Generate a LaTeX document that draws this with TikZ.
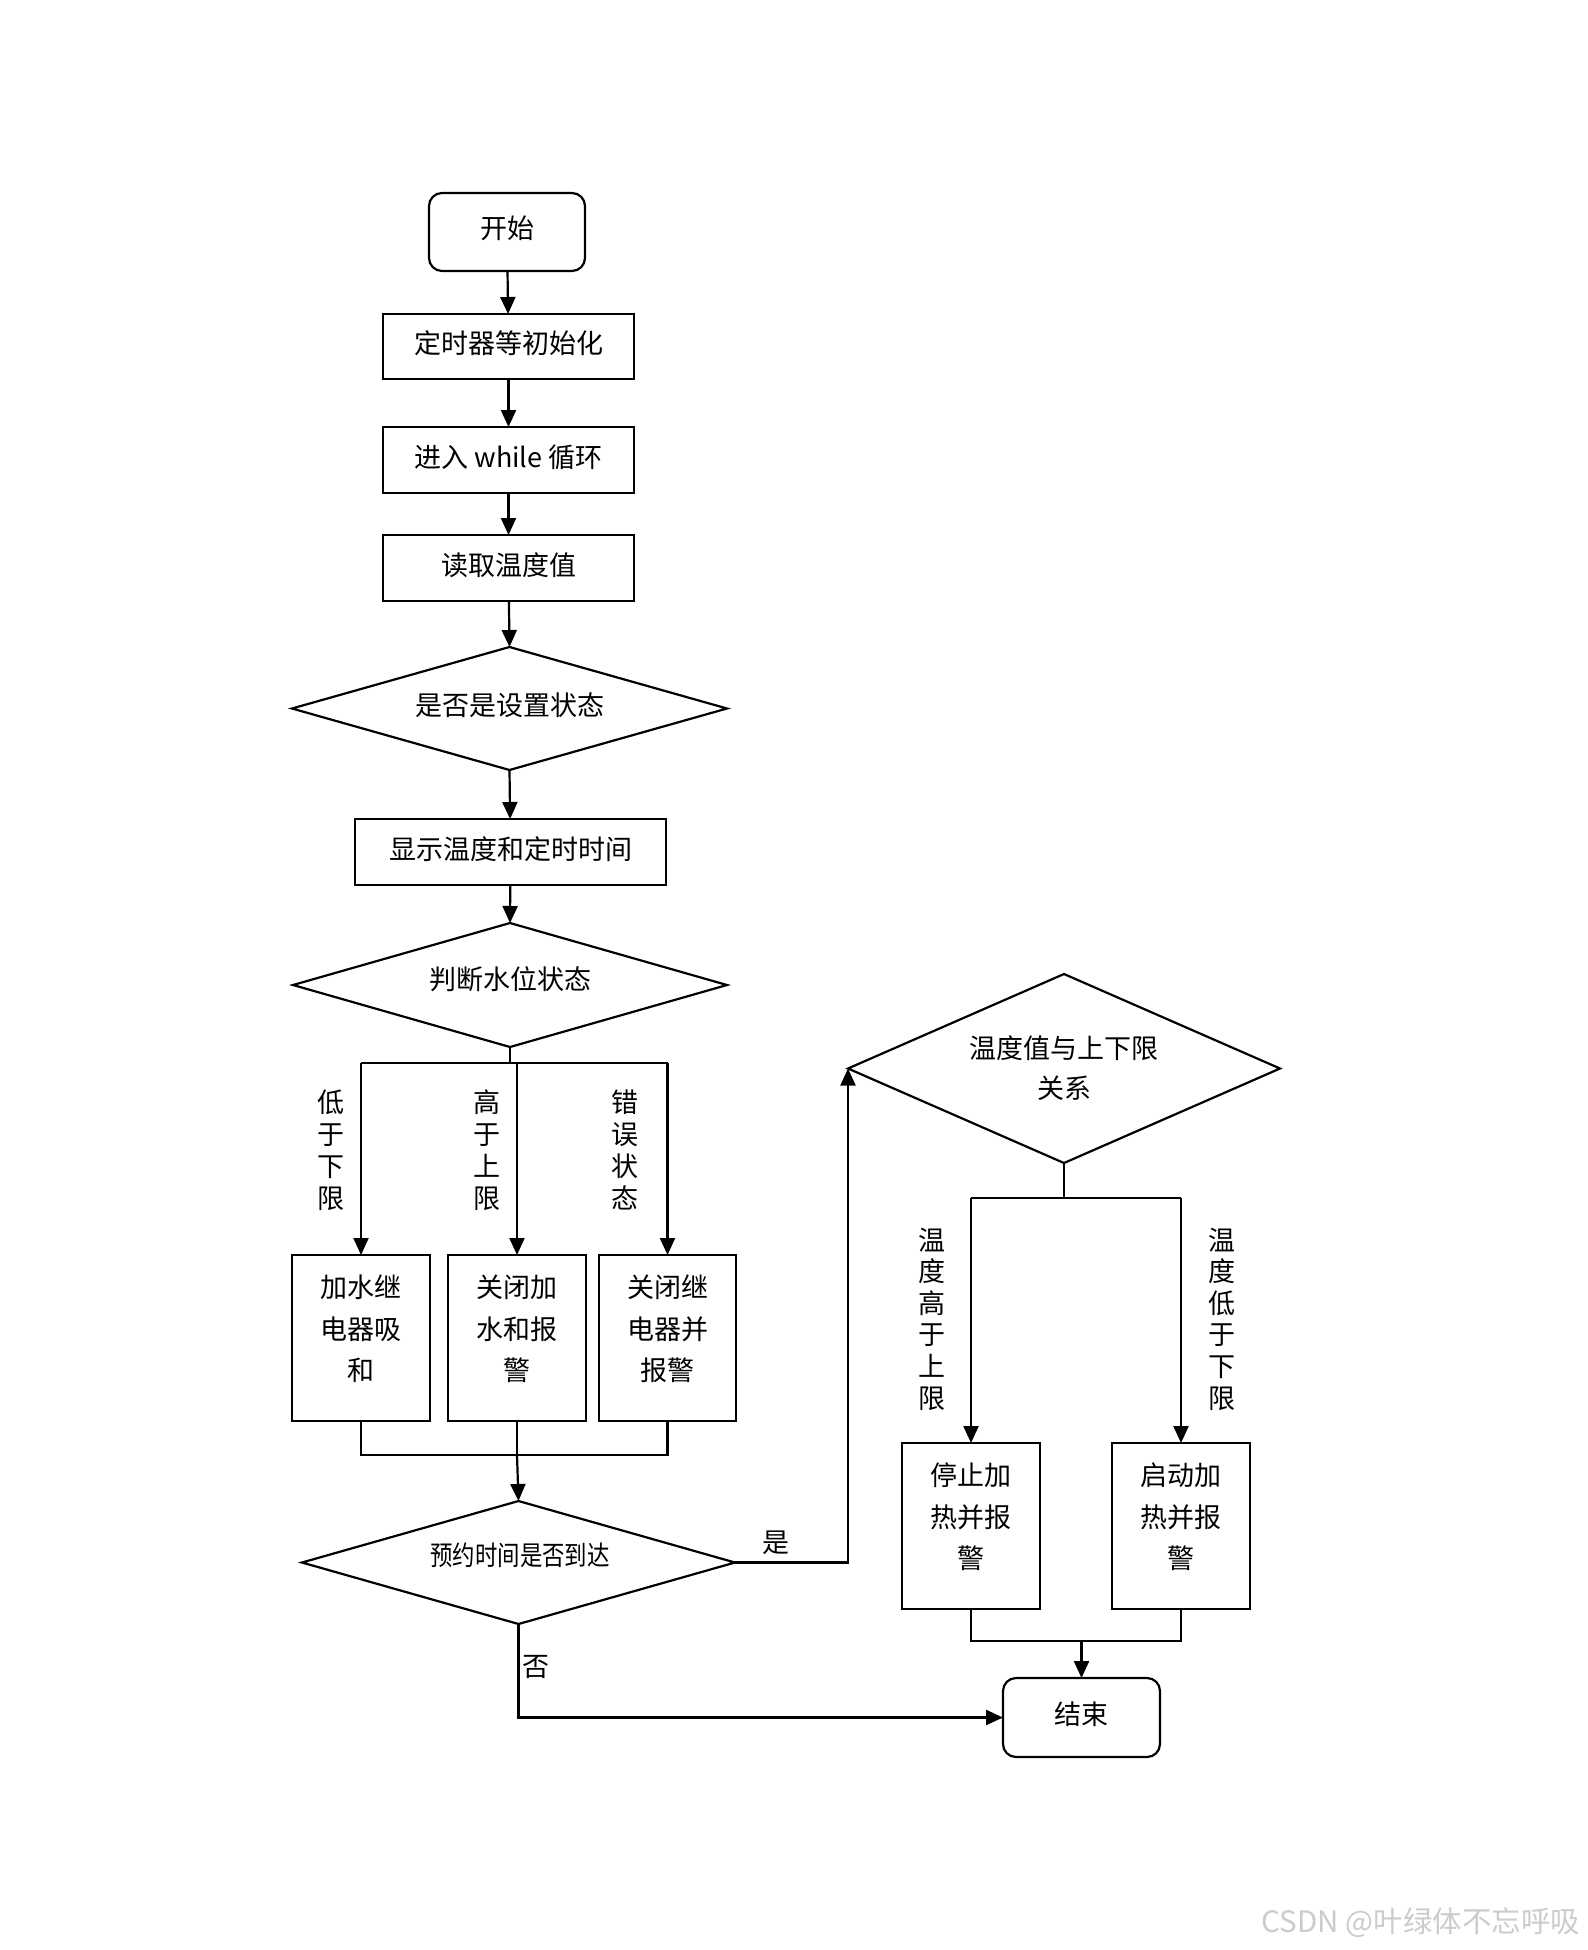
\documentclass[tikz,border=0pt]{standalone}
\usepackage{fontspec}
\setmainfont{Noto Sans CJK SC}
\usepackage{graphicx}
\usetikzlibrary{shapes.geometric,arrows.meta}
\begin{document}
\begin{tikzpicture}[x=1pt,y=-1pt,
  line width=2.2pt,
  every node/.style={inner sep=0pt, outer sep=0pt, font=\fontsize{27}{32}\selectfont},
  procbox/.style={draw, rectangle, minimum width=251pt, minimum height=65pt, text height=22pt, text depth=8pt},
  termbox/.style={draw, rectangle, rounded corners=13pt, minimum width=156pt, minimum height=78pt, text height=22pt, text depth=9pt},
  tallbox/.style={draw, rectangle, minimum width=138pt, minimum height=166pt},
  dia/.style={draw, diamond, aspect=1},
  boxtxt/.style={align=center, font=\fontsize{27}{41.5}\selectfont},
  vlab/.style={align=center, font=\fontsize{27}{32}\selectfont},
  vlabr/.style={align=center, font=\fontsize{27}{31.6}\selectfont},
  flow/.style={-{Triangle[length=17pt,width=15pt]}},
  wm/.style={text=black!20, font=\fontsize{29.5}{31}\selectfont}
]
\useasboundingbox (0,0) rectangle (1587,1950);
\fill[white] (0,0) rectangle (1587,1950);

% main column
\node[termbox] (start) at (507,232) {开始};
\node[procbox] (init) at (508.5,346.5) {定时器等初始化};
\node[procbox, minimum height=66pt] (loop) at (508.5,460) {进入 while 循环};
\node[procbox, minimum height=66pt] (read) at (508.5,568) {读取温度值};
\node[dia, minimum width=435pt, minimum height=123pt] (d1) at (509.5,708.5) {};
\node (d1t) at (509.5,705) {是否是设置状态};
\node[procbox, minimum width=311pt, minimum height=66pt] (disp) at (510.5,852) {显示温度和定时时间};
\node[dia, minimum width=434pt, minimum height=124pt] (d2) at (510,985) {};
\node (d2t) at (510,979) {判断水位状态};

% water branches
\node[tallbox] (w1) at (361,1338) {};
\node[tallbox] (w2) at (517,1338) {};
\node[tallbox, minimum width=137pt] (w3) at (667.5,1338) {};
\node[boxtxt] (w1t) at (361,1329) {加水继\\电器吸\\和};
\node[boxtxt] (w2t) at (517,1329) {关闭加\\水和报\\警};
\node[boxtxt] (w3t) at (667.5,1329) {关闭继\\电器并\\报警};
\node[vlab] (l1) at (331,1150) {低\\于\\下\\限};
\node[vlab] (l2) at (487,1150) {高\\于\\上\\限};
\node[vlab] (l3) at (625,1150) {错\\误\\状\\态};

\node[dia, minimum width=433pt, minimum height=123pt] (d3) at (518.5,1562.5) {};
\node (d3t) at (520,1555) {\scalebox{0.83}[1]{预约时间是否到达}};

% temperature part
\node[dia, minimum width=432pt, minimum height=189pt] (d4) at (1064,1068.5) {};
\node[align=center, font=\fontsize{27}{40}\selectfont] (d4t) at (1064,1068) {温度值与上下限\\关系};
\node[tallbox] (t1) at (971,1526) {};
\node[tallbox] (t2) at (1181,1526) {};
\node[boxtxt] (t1t) at (971,1517) {停止加\\热并报\\警};
\node[boxtxt] (t2t) at (1181,1517) {启动加\\热并报\\警};
\node[vlabr] (l4) at (932,1319) {温\\度\\高\\于\\上\\限};
\node[vlabr] (l5) at (1222,1319) {温\\度\\低\\于\\下\\限};

\node[termbox, minimum width=157pt, minimum height=79pt] (end) at (1081.5,1717.5) {结束};

% labels
\node (yes) at (776,1543) {是};
\node (no) at (536,1667) {否};

% connectors main column
\draw[flow] (start) -- (init);
\draw[flow] (init) -- (loop);
\draw[flow] (loop) -- (read);
\draw[flow] (read) -- (d1.north);
\draw[flow] (d1.south) -- (disp);
\draw[flow] (disp) -- (d2.north);

% water branch
\coordinate (j1) at (510,1063);
\draw (d2.south) -- (j1);
\draw (w1.north |- j1) -- (w3.north |- j1);
\draw[flow] (w1.north |- j1) -- (w1.north);
\draw[flow] (w2.north |- j1) -- (w2.north);
\draw[flow] (w3.north |- j1) -- (w3.north);

% water merge
\coordinate (m1) at (517,1455);
\draw (w1.south) -- (w1.south |- m1) -- (w3.south |- m1) -- (w3.south);
\draw (w2.south) -- (w2.south |- m1);
\draw[flow] (w2.south |- m1) -- (d3.north);

% yes / no
\draw[flow] (d3.east) -| (d4.west);
\draw[flow] (d3.south) |- (end.west);

% temperature branch
\coordinate (j2) at (1064,1198);
\draw (d4.south) -- (j2);
\draw (t1.north |- j2) -- (t2.north |- j2);
\draw[flow] (t1.north |- j2) -- (t1.north);
\draw[flow] (t2.north |- j2) -- (t2.north);

% temperature merge
\coordinate (m2) at (1081.5,1641);
\draw (t1.south) -- (t1.south |- m2) -- (t2.south |- m2) -- (t2.south);
\draw[flow] (end.north |- m2) -- (end.north);

% watermark
\node[wm, anchor=east] (wmark) at (1580,1923) {CSDN @叶绿体不忘呼吸};
\end{tikzpicture}
\end{document}
